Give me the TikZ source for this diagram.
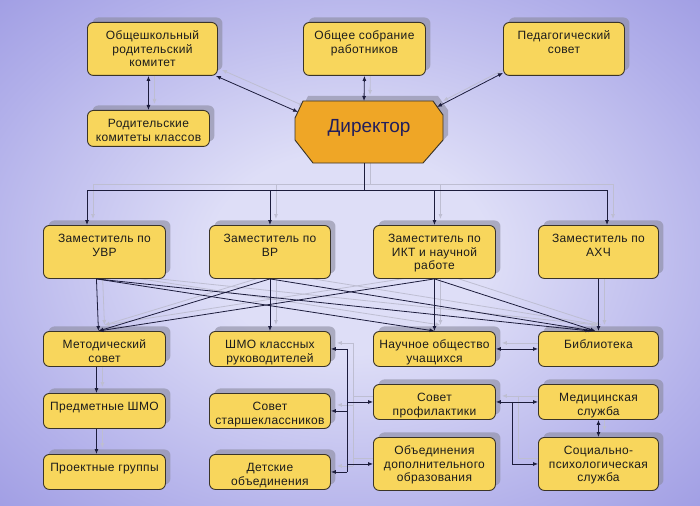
\documentclass[tikz,border=0pt]{standalone}
\usepackage{fontspec}
\setmainfont{Liberation Sans}[LetterSpace=3.0]
\newfontfamily\dirfont{Liberation Sans}
\usetikzlibrary{arrows.meta,shadows}
\definecolor{bgin}{HTML}{DEDEF7}
\definecolor{bgmid}{HTML}{B2B0EA}
\definecolor{bgout}{HTML}{8682DA}
\definecolor{boxfill}{HTML}{F8D65C}
\definecolor{boxline}{HTML}{3A3428}
\definecolor{dirfill}{HTML}{EFA626}
\definecolor{dirtxt}{HTML}{221E5C}
\definecolor{txt}{HTML}{1C1C1C}
\definecolor{lc}{HTML}{1C1C3C}
\definecolor{slc}{HTML}{BEBED2}
\definecolor{shc}{HTML}{8A8A9E}
\pgfdeclareradialshading{bgshade}{\pgfpoint{0bp}{0bp}}{color(0bp)=(bgin); color(10bp)=(bgin); color(28bp)=(bgmid); color(48bp)=(bgout); color(80bp)=(bgout)}
\pgfdeclarelayer{bglayer}
\pgfsetlayers{bglayer,main}
\tikzset{
  ybox/.style={draw=boxline, fill=boxfill, rounded corners=6pt, line width=0.9pt,
    inner sep=0pt, anchor=north west, text=txt, font=\fontsize{12}{13.5}\selectfont,
    drop shadow={shadow xshift=5pt, shadow yshift=5pt, fill=shc, opacity=0.6}},
  oneway/.style={-{Latex[length=5pt,width=4pt]}},
  twoway/.style={{Latex[length=5pt,width=4pt]}-{Latex[length=5pt,width=4pt]}}
}
\newcommand\ybx[6]{\node[ybox] (#1) at (#2,#3) {\parbox[c][#5pt][t]{#4pt}{\centering\rule{0pt}{17.5pt}#6}};}
\newcommand\allconns{%
  % top
  \draw[cn,twoway] (rodk.north |- obsh.south) -- (rodk.north);
  \draw[cn,twoway] ([xshift=-2pt]obsh.south east) -- (dNW);
  \draw[cn,twoway] (sobr.south) -- (dN);
  \draw[cn,twoway] ([yshift=3pt]ped.south west) -- (dNE);
  % bus
  \draw[cn] (dS) -- (dS |- busL);
  \draw[cn] (busL) -- (busR);
  \draw[cn,oneway] (busL) -- (busL |- uvr.north);
  \draw[cn,oneway] (vr.north |- busL) -- (vr.north);
  \draw[cn,oneway] (ikt.north |- busL) -- (ikt.north);
  \draw[cn,oneway] (busR) -- (busR |- axch.north);
  % deputies to row 3
  \draw[cn,oneway] ([xshift=-8pt]uvr.south) -- ([xshift=-6pt]metod.north);
  \draw[cn,oneway] ([xshift=-8pt]uvr.south) -- (nauch.north);
  \draw[cn,oneway] ([xshift=-8pt]uvr.south) -- ([xshift=-8pt]bib.north);
  \draw[cn,oneway] (vr.south) -- (shmo.north);
  \draw[cn,oneway] (vr.south) -- ([xshift=-6pt]metod.north);
  \draw[cn,oneway] (vr.south) -- ([xshift=-5pt]bib.north);
  \draw[cn,oneway] (ikt.south) -- (nauch.north);
  \draw[cn,oneway] (ikt.south) -- ([xshift=-6pt]metod.north);
  \draw[cn,oneway] (ikt.south) -- ([xshift=-3pt]bib.north);
  \draw[cn,oneway] (axch.south) -- (bib.north);
  % left column
  \draw[cn,oneway] ([xshift=-8pt]metod.south) -- ([xshift=-8pt]pred.north);
  \draw[cn,oneway] ([xshift=-8pt]pred.south) -- ([xshift=-8pt]proekt.north);
  % vertical bus between columns 2 and 3
  \draw[cn] (shmo.east -| vx) -- (detsk.east -| vx);
  \draw[cn,oneway] (shmo.east -| vx) -- (shmo.east);
  \draw[cn,oneway] (starsh.east -| vx) -- (starsh.east);
  \draw[cn,oneway] (detsk.east -| vx) -- (detsk.east);
  \draw[cn,oneway] (prof.west -| vx) -- (prof.west);
  \draw[cn,oneway] (obed.west -| vx) -- (obed.west);
  % right side
  \draw[cn,twoway] (nauch.east) -- (bib.west);
  \draw[cn,twoway] (prof.east) -- (med.west);
  \draw[cn,oneway] (prof.east -| bx) |- (soc.west);
  \draw[cn,twoway] (med.south) -- (soc.north);
}
\begin{document}
\begin{tikzpicture}[x=1pt,y=-1pt]
\useasboundingbox (0,0) rectangle (700,505);
% boxes
\ybx{obsh}{87}{22}{130}{53}{Общешкольный\\родительский\\комитет}
\ybx{sobr}{303}{22}{122}{53}{Общее собрание\\работников}
\ybx{ped}{503}{22}{121}{53}{Педагогический\\совет}
\ybx{rodk}{87}{110}{122}{36}{Родительские\\комитеты классов}
\ybx{uvr}{43}{225}{122}{53}{Заместитель по\\УВР}
\ybx{vr}{209}{225}{121}{53}{Заместитель по\\ВР}
\ybx{ikt}{373}{225}{122}{53}{Заместитель по\\ИКТ и научной\\работе}
\ybx{axch}{538}{225}{120}{53}{Заместитель по\\АХЧ}
\ybx{metod}{43}{331}{122}{35}{Методический\\совет}
\ybx{shmo}{209}{331}{121}{35}{ШМО классных\\руководителей}
\ybx{nauch}{373}{331}{122}{35}{Научное общество\\учащихся}
\ybx{bib}{538}{331}{120}{35}{Библиотека}
\ybx{pred}{43}{393}{122}{35}{Предметные ШМО}
\ybx{starsh}{209}{393}{121}{35}{Совет\\старшеклассников}
\ybx{prof}{373}{384}{122}{35}{Совет\\профилактики}
\ybx{med}{538}{384}{120}{35}{Медицинская\\служба}
\ybx{proekt}{43}{454}{122}{35}{Проектные группы}
\ybx{detsk}{209}{454}{121}{35}{Детские\\объединения}
\ybx{obed}{373}{437}{122}{53}{Объединения\\дополнительного\\образования}
\ybx{soc}{538}{437}{120}{53}{Социально-\\психологическая\\служба}
% director
\fill[shc,opacity=0.6,transform canvas={xshift=5pt,yshift=5pt}] (303,101) -- (433,101) -- (443,115) -- (443,140) -- (423,163) -- (313,163) -- (295,140) -- (295,118) -- cycle;
\draw[boxline,fill=dirfill,line width=0.9pt] (303,101) -- (433,101) -- (443,115) -- (443,140) -- (423,163) -- (313,163) -- (295,140) -- (295,118) -- cycle;
\node[anchor=base,text=dirtxt,font=\dirfont\fontsize{19}{22}\selectfont,inner sep=0pt] (dir) at (369,133) {Директор};
% connector helper coordinates
\coordinate (dNW) at (298,112);
\coordinate (dN) at (364,101);
\coordinate (dNE) at (437,107);
\coordinate (dS) at (364,163);
\coordinate (busL) at (87,190);
\coordinate (busR) at (607,190);
\coordinate (vx) at (347,0);
\coordinate (bx) at (512,0);
% background and line shadows
\begin{pgfonlayer}{bglayer}
\shade[shading=bgshade] (0,0) rectangle (700,505);
\begin{scope}[transform canvas={xshift=6pt,yshift=6pt}, cn/.style={draw=slc,line width=0.8pt}]
\allconns
\end{scope}
\end{pgfonlayer}
% connectors
\begin{scope}[cn/.style={draw=lc,line width=0.8pt}]
\allconns
\end{scope}
\end{tikzpicture}
\end{document}
